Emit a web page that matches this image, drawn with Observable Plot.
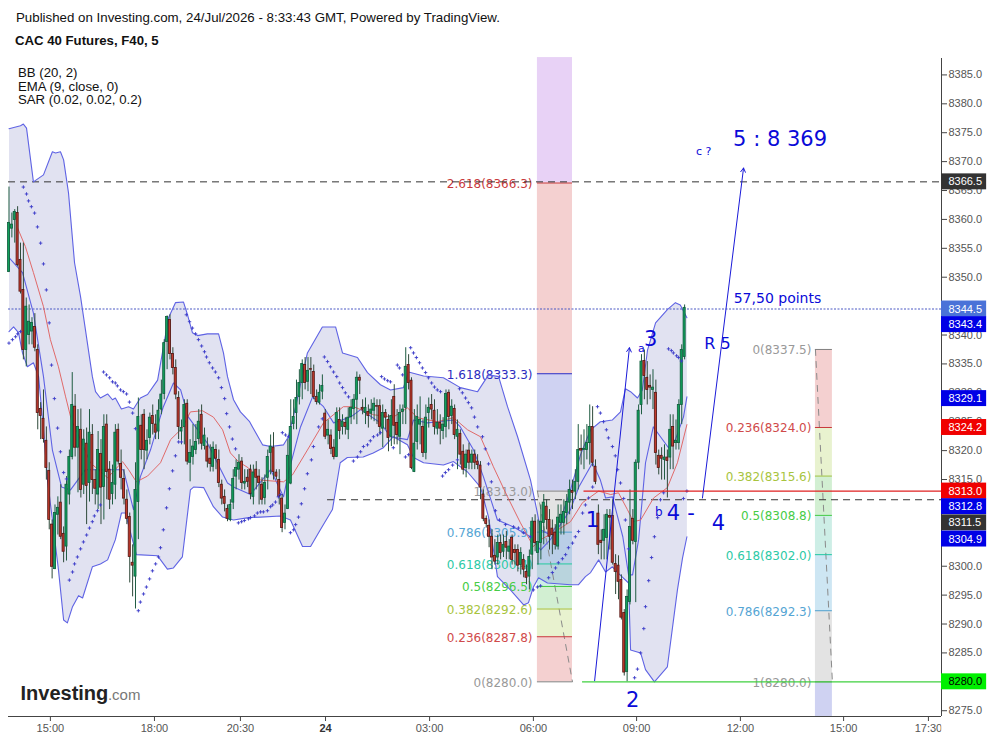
<!DOCTYPE html>
<html><head><meta charset="utf-8">
<script src="https://cdn.jsdelivr.net/npm/d3@7"></script>
<script src="https://cdn.jsdelivr.net/npm/@observablehq/plot@0.6"></script>
<style>
body{margin:0;background:#fff;font-family:"Liberation Sans",Arial,sans-serif;color:#111;position:relative;width:993px;height:741px;overflow:hidden}
#head{height:58px;position:relative}
#pub{position:absolute;left:16px;top:10px;font-size:13.3px;white-space:nowrap}
#ttl{position:absolute;left:15px;top:33px;font-size:13.2px;font-weight:bold;white-space:nowrap}
#leg{position:absolute;left:18px;top:66px;font-size:13.2px;line-height:13.5px;z-index:2}
svg{display:block}
</style></head><body>
<div id="head"><div id="pub">Published on Investing.com, 24/Jul/2026 - 8:33:43 GMT, Powered by TradingView.</div><div id="ttl">CAC 40 Futures, F40, 5</div></div>
<div id="leg">BB (20, 2)<br>EMA (9, close, 0)<br>SAR (0.02, 0.02, 0.2)</div>
<div id="chart"></div>
<script>
const opens=[8350.9,8358.4,8359.9,8361.1,8353,8347.8,8337.4,8340,8340.6,8341.4,8337.4,8327.2,8325.5,8321.7,8316.5,8307.2,8299.5,8308.9,8311,8305.6,8303.4,8312.4,8318.9,8327.6,8320.5,8323.6,8314.1,8321.2,8314.4,8322.7,8314.9,8312.4,8319.4,8313.7,8324.5,8316.7,8312.5,8314.1,8323.6,8317.7,8315.1,8311.5,8308.5,8300.6,8298.2,8311.1,8324.3,8326.2,8320,8322.2,8326,8324.5,8323.3,8327.1,8329.8,8338.8,8342.6,8336.7,8334.3,8329.1,8323.3,8324.1,8328.1,8317.9,8318.9,8320.1,8322,8326.2,8320.8,8320.7,8318.6,8317.2,8320.1,8318.4,8314.1,8312,8309.9,8308,8311,8315.5,8316.7,8318.1,8314.3,8315.3,8316.7,8312,8316.7,8315.5,8314.1,8311.8,8315.3,8319.6,8320.5,8316.2,8314.9,8311.7,8307.5,8309.9,8314.3,8324.6,8326.5,8329.3,8331.7,8334.8,8331.9,8334.1,8333.6,8329.3,8328.3,8330.2,8326.4,8322.6,8322.6,8320.5,8318.9,8325.3,8324.1,8324.8,8323.6,8325.8,8327.2,8328.8,8332.6,8327.4,8326.5,8326.7,8326.4,8326.9,8327.7,8327.7,8323.8,8326.5,8325.3,8322.4,8329.3,8324.8,8322.4,8326.7,8327.4,8334.8,8332.1,8316.3,8321.5,8324.5,8324.1,8319.6,8326.5,8327.9,8326.9,8323.8,8324.8,8323.4,8324.1,8330,8326,8327.2,8322.4,8322.9,8319.8,8317,8320,8317.9,8319.3,8318.1,8317.4,8312.4,8308.2,8307,8305.1,8301.8,8301.5,8304,8302.5,8304.2,8302.5,8304.9,8302.8,8302.8,8300.2,8301.1,8299,8298.2,8302,8307.7,8302.3,8304,8307.5,8310.3,8308,8306.5,8305.8,8303.4,8307.5,8307.5,8309.2,8311,8313,8312.9,8314.6,8320.3,8320.1,8320.1,8321.3,8324.1,8317.2,8309.1,8304.4,8304.4,8304.9,8308.7,8308.7,8300.4,8300.1,8297.6,8291.9,8281.7,8293.8,8308.2,8304.2,8317.9,8327.9,8335.5,8332.6,8331.2,8330.5,8330,8319.1,8319.1,8318.4,8318.8,8318.8,8324.1,8321.3,8321.3,8327.9,8336.2];
const highs=[8365.6,8361.1,8361.7,8362.2,8355.9,8355.9,8346.4,8345.2,8343,8343.7,8338.3,8328.3,8330.5,8324.1,8317.9,8308,8310.6,8312,8314.1,8306.8,8315.5,8320.1,8333.5,8329.7,8327.1,8327.2,8323.6,8323.9,8327.1,8324.5,8316.7,8323.3,8321.9,8326.2,8326.2,8318.1,8317.5,8324.5,8324.6,8320.1,8316.7,8313.2,8309.2,8303.7,8317.9,8329.1,8326.2,8327.1,8323.6,8326.5,8327.9,8326.2,8328.8,8332.2,8339.2,8343.3,8343.5,8337.8,8335.7,8330.2,8325.3,8328.8,8328.8,8321.9,8324.5,8324.5,8327.1,8327.9,8323.9,8322.2,8321,8321.5,8321,8320.1,8314.9,8313.2,8310.6,8311.5,8316.7,8318.4,8319.3,8318.8,8316.7,8316.7,8317.5,8317.5,8318.1,8316.7,8315.3,8315.8,8320.1,8322.7,8323.1,8316.7,8316.7,8312.4,8310.6,8321.9,8328.8,8328.8,8332.2,8334,8335.7,8336.1,8336.1,8336.1,8334.8,8330.5,8331.4,8333.1,8327.1,8325.3,8323.6,8321.9,8327.4,8327.4,8326.2,8325.7,8327.4,8328.8,8329.7,8333.6,8333.1,8328.8,8329.1,8327.9,8328.8,8329.1,8328.8,8328.8,8327.9,8327.1,8326.2,8328.8,8331.4,8327.1,8327.9,8327.9,8337.8,8336.6,8332.6,8327.1,8327.9,8329.3,8325.3,8327.9,8329.1,8329.7,8328.8,8327.1,8326.2,8325.7,8330.5,8330.5,8328.8,8327.9,8325.3,8323.6,8321,8320.1,8321.3,8320.1,8320.1,8319.3,8318.1,8313.2,8308.7,8308,8306.3,8304.6,8305.4,8305.4,8305.4,8306,8304.6,8305.4,8303.7,8303.7,8303.2,8302,8300.2,8302.8,8308.4,8308.9,8308,8310.6,8312.4,8311.5,8309.8,8308,8307.2,8310.6,8310.6,8311.5,8312.4,8314.9,8314.9,8316.7,8324.5,8322.7,8323.6,8324.5,8327.9,8327.6,8318.4,8310.6,8306.3,8308.9,8309.8,8309.8,8311.5,8302,8301.8,8298.5,8292.5,8295.9,8313.2,8309.8,8318.4,8327.9,8336.6,8337.4,8335.4,8333.1,8334,8332.2,8320.1,8320.5,8321,8320.1,8326.2,8326.2,8325.3,8328.8,8338.3,8345.2];
const lows=[8350.8,8356.8,8355.9,8351.8,8347.1,8335.7,8334.5,8338.3,8338.3,8337.1,8323.6,8321.9,8321.3,8314.9,8306.3,8297.8,8299.4,8305.4,8304.6,8300.6,8300.9,8310.6,8318.4,8318.9,8312.7,8311.8,8312.4,8307.2,8311.1,8312.4,8310.6,8309.8,8307.2,8308,8311.5,8309.8,8310.6,8311.5,8317.5,8313.2,8310.6,8307.2,8297.1,8294.7,8292.6,8304.6,8318.4,8316.7,8318.4,8321,8322.7,8321.9,8321.9,8326.2,8328.8,8334,8335.7,8333.1,8328.8,8321.9,8321,8321,8317.5,8314.6,8317.5,8319.3,8321,8320.1,8320.1,8317,8316.3,8316.3,8316.7,8313.6,8310.6,8309.4,8307.7,8307.7,8309.8,8313.2,8314.9,8313.2,8313.2,8313.6,8311.5,8310.6,8313.2,8310.6,8310.6,8310.6,8313.2,8315.8,8314.9,8314.9,8310.6,8305.8,8306.3,8309.8,8314.1,8323.6,8323.6,8327.9,8328.8,8330.5,8330.2,8329.7,8328.8,8327.9,8327.9,8328.8,8321.9,8321,8319.3,8318.4,8318.8,8321.9,8322.7,8322.7,8321.9,8324.5,8325.3,8324.5,8329.7,8326.2,8324.5,8323.9,8325.3,8325,8324.5,8322.7,8320.5,8323.6,8319.8,8320.7,8321,8321,8319.3,8324.5,8324.5,8330.5,8316.7,8316.2,8320.1,8321,8318.8,8318.4,8323.9,8325.3,8322.7,8322.7,8321,8321.9,8322.2,8323.6,8324.5,8321.9,8316.7,8317.5,8315.8,8315.3,8316.7,8316.7,8316.7,8316.7,8311.5,8307.7,8306.6,8303.2,8299.4,8300.2,8300.2,8301.1,8301.5,8301.1,8301.1,8300.2,8300.2,8299,8298.5,8298,8296.8,8295.9,8299.4,8302.5,8300.2,8301.1,8303.7,8306.3,8302.8,8302,8302.8,8302.8,8305.4,8305.4,8307.2,8308.9,8309.8,8311.5,8313.2,8317.5,8316.7,8318.4,8317.5,8317.2,8314.1,8302,8301.1,8301.1,8301.1,8302.8,8300.2,8295.1,8294.2,8290.7,8281,8280,8293.3,8303.7,8293.7,8316.7,8326.2,8328.8,8327.9,8328.8,8327.1,8317.5,8315.8,8314.9,8314.9,8311.8,8316.7,8316.7,8320.1,8320.1,8324.5,8335.7];
const closes=[8359.4,8359.1,8361.3,8352.1,8347.5,8337.4,8344.9,8342.3,8342.1,8337.8,8326.5,8326,8322,8317,8308,8299.9,8309.2,8310.1,8305.1,8302.5,8314.1,8318.9,8327.9,8320.5,8324.1,8313.2,8321.9,8313.9,8323.1,8314.9,8313.4,8320.1,8313.6,8324.1,8316.3,8311.5,8314.4,8323.1,8318.1,8315.3,8311.7,8308.2,8301.6,8300.1,8313.2,8325.8,8320.1,8320.1,8321.7,8325.7,8324.6,8323.1,8326.9,8329.7,8338.6,8343.1,8336.7,8334.3,8329.7,8324.1,8323.9,8327.9,8318.1,8319.6,8320.7,8321.5,8325,8321.2,8322.6,8318.1,8317.7,8320.5,8318.6,8314.4,8311.7,8310.8,8308.2,8310.6,8315.1,8317,8317.9,8314.4,8314.6,8314.6,8312.5,8316.2,8315.3,8314.4,8311.5,8314.4,8318.9,8320.7,8316.3,8315.5,8312,8306.6,8309.1,8319.1,8324.1,8325.8,8329.1,8331.7,8335,8331.7,8333.8,8334,8329.3,8328.4,8330,8331.2,8322.4,8323.6,8320.3,8318.9,8326.5,8323.4,8325,8324.1,8325.7,8327.4,8328.8,8332.6,8332.1,8327.1,8327.4,8326,8327.1,8328.1,8327.6,8324.1,8326.5,8325.7,8322.2,8326,8324.3,8322.7,8326.5,8327.1,8334.5,8331.7,8317,8321.2,8325.8,8325.3,8319.6,8325.7,8327.4,8327.1,8324.1,8324.8,8323.8,8324.5,8329.8,8325.8,8327.6,8322.7,8323.6,8319.3,8316.7,8319.3,8317.9,8319.3,8317.9,8317.5,8313.6,8308.2,8307.3,8305.1,8301.5,8300.8,8304,8302.3,8303.7,8303.2,8303.4,8301.1,8302.3,8300.1,8302.3,8299.4,8298,8301.6,8307.7,8304,8304.2,8307.7,8311,8308,8305.1,8305.4,8303.7,8308.4,8308.9,8309.4,8311.1,8313.2,8312.7,8314.6,8320.1,8320,8320.3,8321.3,8324.1,8317.9,8314.6,8303.7,8304,8306.3,8308.9,8308.4,8300.6,8299,8297.3,8291.1,8281.6,8294.7,8306.8,8304.4,8317.9,8326.9,8335.4,8332.9,8330.5,8330.9,8330.9,8319.6,8317,8318.6,8318.8,8318.2,8323.6,8320.7,8321.7,8327.9,8337.4,8344.7];

const upperIdx=[0,4,5,6.1,8.5,12,15.1,16.2,17.9,19,20.7,22.8,24.9,29,30.1,31.8,34.3,36,37,39.1,41.6,43.3,45.7,48.2,51.7,55.5,57.9,60.7,62.1,63.8,65.6,69,72.9,74.6,76,78.1,80.5,83.7,84.7,88.2,91,95.5,97.2,99.7,103.8,109,113.6,116,121.2,124.7,129.2,132.7,137.2,139,144.2,151.1,157,163,166.8,170.3,173.4,176.9,181.4,183.8,184.9,188.3,191.8,195.3,198.8,202.3,205.7,209.9,212.7,214.4,216.2,218.6,220.3,222.1,224.9,229,231.8,233.5,235.8];
const upperVal=[8375.7,8376.2,8376.5,8375.8,8366.5,8367.7,8371.7,8371.5,8371.7,8370.3,8364.6,8352.5,8346.6,8332.8,8330.2,8329.1,8329.8,8328.8,8329.1,8327.2,8327.6,8327.2,8329.1,8329.7,8332.2,8343,8345.6,8345.7,8343.5,8340.4,8339.9,8340.2,8340.2,8336.9,8332.8,8328.8,8326.7,8325,8324.1,8321,8320.7,8321,8322.4,8327.6,8336.9,8341.4,8341.4,8336.9,8336.1,8333.5,8331.4,8330.5,8330.9,8333.6,8332.9,8332.6,8330.9,8330.2,8333.1,8332.8,8327.6,8322.4,8314.9,8309.2,8306.3,8305.4,8308,8313.2,8319.3,8323.6,8325,8325.3,8326.7,8330.7,8330.2,8329.1,8330.5,8337.4,8342.1,8344.4,8345.6,8345.2,8343];

const middleIdx=[0,4.7,8.5,12,15.1,18.3,21.4,26.6,31.8,39.8,43.3,45.7,49.2,53.7,57.2,59.7,62.4,69,76,78.1,84,91,95.5,97.2,101.4,105.6,109.4,112.9,118.8,122.3,129.2,132.7,138.6,140.7,145.6,154.6,157,161.6,165,169.9,175.5,181.4,184.9,188.3,191.8,195.3,198.2,203,205.7,207.5,209.9,213.5,215.5,216.9,219,221.4,224.1,226.6,229.4,231.8,234.6,235.8];
const middleVal=[8353.4,8350.8,8343.8,8332.8,8320.1,8313.7,8313.2,8316.7,8316.7,8316.7,8309.8,8315.5,8320.1,8327.6,8331.7,8330.5,8325.8,8321.3,8314.4,8313.7,8312.4,8316.7,8312,8316.2,8324.1,8329.3,8327.6,8324.8,8325.8,8327.1,8324.8,8322.4,8321.9,8325.3,8324.8,8325.3,8324.1,8320.1,8315.5,8308,8306.8,8305.1,8302.8,8304.6,8307.2,8309.8,8313.7,8317.9,8314.9,8311.8,8312,8305.1,8298.5,8298.5,8304.6,8317.9,8324.1,8322.4,8320.5,8321.9,8325.8,8329.3];

const lowerIdx=[0,1.6,3.3,4.7,6.4,8.5,10.3,12,13.4,15.1,17.2,19,20.3,22.1,24.2,25.6,29,31.8,34.3,37,39.1,40.5,44.3,51.7,55.1,57.2,60.3,63.1,64.2,67.7,71.1,74.3,78.1,83.3,87.5,94.4,97.9,102.1,104.9,108.3,112.5,115.2,117.7,123.2,126.7,130.2,133.7,138.6,140.7,144.2,151.1,154.6,159.5,164,166.8,169.9,174.4,179,180.7,182.4,184.2,187.3,195.3,198.1,200.5,202.3,205.1,207.5,209.9,211.7,215.5,216.2,219.7,221.4,224.5,229,232.5,234.3,235.8];
const lowerVal=[8340.6,8341.4,8340.4,8336.9,8334.5,8335.2,8332.8,8323.6,8314.9,8308,8299.4,8290.7,8290.2,8293,8294.9,8294.5,8299.9,8300.4,8301.1,8304.6,8309.2,8309.2,8302,8301.8,8299.5,8299.7,8301.6,8313.2,8313.7,8313.6,8310.3,8308.5,8308,8308.4,8308.5,8308.7,8308,8303.4,8303.4,8306.3,8309.8,8317.9,8318.8,8318.9,8319.6,8320.5,8322.4,8321,8318.8,8317.9,8317.5,8318.1,8316.3,8313.7,8308.5,8298.2,8295.9,8293.3,8293.7,8296.4,8298,8297.1,8296.8,8296.8,8298.2,8298.9,8301.1,8299,8299.9,8298.9,8297.1,8285.5,8285,8282.1,8280,8282.6,8295.9,8301.5,8305.1];

const emaIdx=[3,5.7,8.5,12,14.4,17.2,19.7,21.7,24.9,28.3,34.3,39.5,41.6,44.3,48.2,52.7,56.2,60.3,63.1,67.3,71.1,74.3,77,79.8,83.3,87.5,95.5,98.6,103.8,109.4,116.3,119.8,126.8,133.7,138.6,142.1,149,154.6,159.5,164,168.5,173.4,177.9,182.4,184.9,189.4,195.3,199.5,205.1,209.3,212,215.1,217.2,219.7,224.2,229,232.5,235.8];
const emaVal=[8358.5,8355.3,8350.8,8344.9,8339.2,8334.5,8329.3,8325.3,8321.9,8317.9,8315.3,8318.1,8316.7,8314.6,8315.6,8317.9,8321.9,8323.9,8326.7,8326.9,8325.8,8323.6,8319.6,8318.1,8317,8314.9,8314.6,8315.8,8320.1,8324.8,8327.6,8327.6,8326.2,8325.8,8327.4,8325.7,8325,8325.7,8323.6,8322.4,8317.2,8312,8307.5,8303.4,8304.6,8305.8,8307.7,8311,8313,8312.4,8312.7,8309.8,8307.7,8308,8311.8,8313.6,8317.9,8324.5];

const sarIdx=[0,1.2,2.3,3,4,5,6.1,6.8,7.8,8.9,9.9,11,12,13,14,14.8,15.8,16.9,17.9,19,20,21,22.1,22.8,23.8,24.9,25.9,27,28,29,29.7,30.8,31.8,32.9,33.9,35,36,37,37.7,38.8,39.8,40.9,41.9,43,44,45,45.7,46.8,47.8,48.9,49.9,51,52,52.7,53.7,54.8,55.8,56.9,57.9,59,60,61.7,62.8,63.8,64.9,65.9,67,68,68.7,69.7,70.8,71.8,72.9,73.9,75,75.7,76.7,77.7,78.8,79.8,80.9,81.9,83.3,84,85.4,86.4,87.5,88.5,89.9,91,91.7,92.7,93.7,94.4,95.1,96.2,97.2,97.9,99,99.7,100.7,101.7,102.8,103.8,105.2,105.9,107.7,109,109.7,110.8,111.8,112.9,114,115,116,117,118.1,119.8,121.2,122.3,123.3,124.7,125.7,126.8,128.2,129.2,129.6,130.6,131.7,132.7,133.7,135.1,135.8,136.9,137.9,139,139.7,140.7,141.7,142.8,143.8,144.9,145.9,147,148,149,150.1,150.8,151.8,152.9,154.3,156,156.7,157.7,158.8,159.8,160.9,161.9,163,164.7,165.7,166.8,167.8,169.2,170.6,172.7,175.5,177.2,179,181.4,182.4,183.8,184.9,187.7,189,190.1,191.1,192.5,193.6,194.6,196,197,198.1,199.5,200.5,201.6,203,204.7,205.7,206.8,207.8,208.5,209.9,210.9,211.7,212.7,213.8,214.4,215.5,217.6,218.6,219.7,220.8,221.4,222.5,223.5,224.5,225.6,226.6,227.7,229.4,230.4,231.1,232.2,232.9,233.9,234.6,235.8];
const sarVal=[8338.6,8339.2,8339.7,8340.2,8340.6,8365.6,8364.4,8363.2,8362.2,8361.1,8358.7,8355.9,8352.3,8347.8,8342.1,8334.8,8329,8323.9,8319.8,8316.2,8315.1,8297.6,8299,8300.4,8301.6,8303,8304.2,8305.4,8306.6,8307.7,8308.7,8309.6,8310.6,8333.6,8333.1,8332.6,8331.9,8331.7,8331.2,8330.5,8330.2,8329.8,8328.4,8326.5,8323.8,8292.3,8293.8,8295.2,8296.4,8297.8,8299.2,8300.4,8301.6,8303.2,8306.3,8310.1,8313.4,8316.5,8319.1,8321.5,8321.5,8343.5,8342.3,8341.2,8340.2,8339.2,8338.1,8337.1,8336.2,8335.2,8334.3,8333.6,8332.6,8330.9,8329,8326.4,8324.1,8322,8320.3,8307.5,8307.7,8307.9,8308.2,8308.4,8308.7,8309.2,8309.4,8309.4,8309.6,8310.3,8310.6,8311.1,8312,8312.4,8323.1,8322.7,8322.4,8305.8,8306.3,8307.2,8308.5,8310.8,8313.4,8316,8318.4,8320.7,8324.1,8325.5,8336.2,8335.4,8334.5,8333.6,8332.8,8331.7,8330.9,8330,8329.3,8318.2,8318.9,8319.8,8320.7,8321,8321.7,8322.4,8322.7,8323.1,8332.8,8332.4,8332.1,8331.9,8320.5,8334.8,8334.3,8333.1,8318.9,8319.3,8337.8,8336.9,8336.1,8335.2,8334.3,8333.5,8332.6,8331.7,8331,8330.5,8330.2,8315.6,8316.2,8316.7,8317.5,8318.4,8330.7,8330,8329.1,8328.3,8327.4,8325.8,8324.1,8322.4,8320.3,8317.7,8314.6,8309.6,8308,8307.2,8306.8,8306.6,8305.8,8305.1,8295.9,8296.4,8296.6,8298,8298.9,8299.7,8300.6,8301.3,8302,8303.2,8304,8305.1,8306,8309.2,8310.6,8311.8,8313.7,8327.6,8326.5,8325,8323.6,8322.2,8320.7,8319.1,8316.7,8314.4,8311.7,8308,8303,8280.7,8282.2,8285,8289.2,8293,8297.5,8301.5,8305.1,8308.4,8311.5,8312.7,8337.6,8337.3,8336.9,8336.4,8336.1,8335.5,8311.7,8313];

const fibLeftNames=["0","0.236","0.382","0.5","0.618","0.786","1","1.618","2.618"];
const fibLeftPrices=[8280.0,8287.8,8292.6,8296.5,8300.4,8305.9,8313.0,8333.3,8366.3];
const fibRightNames=["0","0.236","0.382","0.5","0.618","0.786","1"];
const fibRightPrices=[8337.5,8324.0,8315.6,8308.8,8302.0,8292.3,8280.0];
const fibLineColors={"0":"#808080","0.236":"#c8393b","0.382":"#a3c03c","0.5":"#3fc83f","0.618":"#22c7a0","0.786":"#4a9fd0","1":"#808080","1.618":"#2c2cc0","2.618":"#c8393b"};
const fibLabelColors={"0":"#999999","0.236":"#d04a4a","0.382":"#a8c43e","0.5":"#46cc46","0.618":"#2ccaa6","0.786":"#55a5d4","1":"#999999","1.618":"#2c2cc0","2.618":"#c8393b"};
const fibLeftFills=["#f4d0d0","#e8f2cf","#d2efd2","#cdeee6","#cde6f3","#e3e3e3","#cfd2f2","#f4d0d0","#e8d2f6"];
const fibRightFills=["#f4d0d0","#e8f2cf","#d2efd2","#cdeee6","#cde6f3","#e3e3e3","#cfd2f2"];

const tagValues=[8366.5,8344.5,8343.4,8329.1,8324.2,8313.0,8312.8,8311.5,8304.9,8280.0];
const tagAt=[8366.5,8344.5,8341.8,8329.0,8324.0,8313.0,8310.3,8307.5,8304.7,8280.0];
const tagFills=["#333333","#4a72d8","#0000e6","#0000e6","#f00000","#f00000","#0000e6","#333333","#0000e6","#00f000"];
const tagInks=["#fff","#fff","#fff","#fff","#fff","#fff","#fff","#fff","#fff","#000"];

const priceTicks=d3.range(8275,8386,5);
const timeTicks=[14.4,50.6,80.5,146.3,182.4,218.3,254.4,290.3,319.8];
const timeLabels=["15:00","18:00","20:30","03:00","06:00","09:00","12:00","15:00","17:30"];
const dayTick=110.1, dayLabel="24";

const noteText=["5 : 8 369","c ?","57,50 points","R 5","3","a","1","2","b","4","-","4"];
const noteIdx=[268.2,241.6,267.3,246.4,223.2,220,202.9,216.9,226,231.1,237.2,246.8];
const notePrice=[8373.9,8371.7,8346.3,8338.5,8339.2,8337.6,8307.9,8276.8,8309.3,8309.1,8309.2,8307.5];
const noteSize=[21,11,14,16,21,11,21,21,12,21,21,21];

const xMin=-0.17,xMax=324.35;
const candles=opens.map((o,i)=>({i,o,h:highs[i],l:lows[i],c:closes[i],up:closes[i]>=o}));
const pts=(a,b)=>a.map((i,k)=>({i,p:b[k]}));
const bandPoly=[...pts(upperIdx,upperVal),...pts(lowerIdx,lowerVal).reverse()];
const fibBands=(prices,fills,end,a,b)=>prices.map((p,k)=>({x1:a,x2:b,y1:p,y2:k+1<prices.length?prices[k+1]:end,f:fills[k]}));
const fibL=fibBands(fibLeftPrices,fibLeftFills,8388,183.8,196);
const fibR=fibBands(fibRightPrices,fibRightFills,8274,280.5,286.4);
const fibTextL=fibLeftPrices.map((p,k)=>({n:fibLeftNames[k],p}));
const fibTextR=fibRightPrices.map((p,k)=>({n:fibRightNames[k],p}));
const fmt=d=>`${d.n}(${d.p.toFixed(1)})`;
const tags=tagValues.map((v,k)=>({v,at:tagAt[k],f:tagFills[k],ink:tagInks[k]}));
const notes=noteText.map((t,k)=>({t,i:noteIdx[k],p:notePrice[k],s:noteSize[k]}));
const blue="#0a0ad8";

const chart=Plot.plot({
  width:993,height:683,marginLeft:8,marginRight:52,marginTop:0,marginBottom:25,
  style:{background:"#fff",fontFamily:'"Liberation Sans",Arial,sans-serif',overflow:"visible"},
  x:{domain:[xMin,xMax]},
  y:{domain:[8274.0,8387.84]},
  color:{type:"identity"},
  marks:[
    Plot.axisY({anchor:"right",ticks:priceTicks,tickFormat:d=>d.toFixed(1),tickSize:5,tickPadding:2,fontSize:11,color:"#555",stroke:"#444",label:null}),
    Plot.axisX({ticks:timeTicks,tickFormat:d=>timeLabels[timeTicks.indexOf(d)],tickSize:5,tickPadding:3,fontSize:11,color:"#555",stroke:"#444",label:null}),
    Plot.axisX({ticks:[dayTick],tickFormat:()=>dayLabel,tickSize:5,tickPadding:3,fontSize:11,fontWeight:"bold",color:"#333",stroke:"#444",label:null}),
    Plot.rect([0],{x1:xMax+0.1,x2:xMax+8,y1:8273.4,y2:8269,fill:"#fff"}),
    Plot.rect(fibL,{x1:"x1",x2:"x2",y1:"y1",y2:"y2",fill:"f"}),
    Plot.rect(fibR,{x1:"x1",x2:"x2",y1:"y1",y2:"y2",fill:"f"}),
    Plot.line(bandPoly,{x:"i",y:"p",fill:"#6a70b8",fillOpacity:0.2,stroke:"none"}),
    Plot.line([{i:183.8,p:8313},{i:196,p:8280}],{x:"i",y:"p",stroke:"#8a8a8a",strokeWidth:1,strokeDasharray:"6,6"}),
    Plot.line([{i:280.5,p:8337.5},{i:286.4,p:8280}],{x:"i",y:"p",stroke:"#8a8a8a",strokeWidth:1,strokeDasharray:"6,6"}),
    Plot.ruleY(fibTextL,{y:"p",x1:183.8,x2:196,stroke:d=>fibLineColors[d.n]}),
    Plot.ruleY(fibTextR,{y:"p",x1:280.5,x2:286.4,stroke:d=>fibLineColors[d.n]}),
    Plot.text(fibTextL,{x:182.1,y:"p",text:fmt,textAnchor:"end",dy:1,fontSize:12,fontFamily:"DejaVu Sans",fill:d=>fibLabelColors[d.n]}),
    Plot.text(fibTextR,{x:279.1,y:"p",text:fmt,textAnchor:"end",dy:1,fontSize:12,fontFamily:"DejaVu Sans",fill:d=>fibLabelColors[d.n]}),
    Plot.ruleY([8366.5],{x1:xMin,x2:xMax,stroke:"#333",strokeDasharray:"7,5"}),
    Plot.ruleY([8311.5],{x1:110.8,x2:xMax,stroke:"#333",strokeDasharray:"7,5"}),
    Plot.ruleY([8344.5],{x1:xMin,x2:xMax,stroke:"#4a58c4",strokeDasharray:"2,1.5"}),
    Plot.line(pts(upperIdx,upperVal),{x:"i",y:"p",stroke:"#5f63e4",strokeWidth:1.1}),
    Plot.line(pts(lowerIdx,lowerVal),{x:"i",y:"p",stroke:"#5f63e4",strokeWidth:1.1}),
    Plot.line(pts(middleIdx,middleVal),{x:"i",y:"p",stroke:"#5f63e4",strokeWidth:1.1}),
    Plot.line(pts(emaIdx,emaVal),{x:"i",y:"p",stroke:"#e06a6a",strokeWidth:1}),
    Plot.ruleX(candles,{x:"i",y1:"l",y2:"h",stroke:d=>d.up?"#1f5c42":"#2e4a3a",strokeWidth:1}),
    Plot.rect(candles,{x1:d=>d.i-0.36,x2:d=>d.i+0.36,y1:"o",y2:"c",fill:d=>d.up?"#12a05c":"#c23a2c",stroke:d=>d.up?"#0e5c3c":"#511512",strokeWidth:0.8}),
    Plot.dot(pts(sarIdx,sarVal),{x:"i",y:"p",symbol:"plus",r:1.2,stroke:"#3a3ac8",strokeWidth:0.9}),
    Plot.ruleY([8313],{x1:200,x2:xMax,stroke:"#e02020",strokeWidth:1.2}),
    Plot.ruleY([8280],{x1:199.5,x2:xMax,stroke:"#3fd03f",strokeWidth:1.2}),
    Plot.arrow([0],{x1:203.7,y1:8280.2,x2:215.8,y2:8337.8,stroke:"#1a1ad8",bend:0,headLength:7,strokeWidth:1}),
    Plot.arrow([0],{x1:241.2,y1:8311.8,x2:255.5,y2:8368.9,stroke:"#1a1ad8",bend:0,headLength:7,strokeWidth:1}),
    Plot.text(notes,{x:"i",y:"p",text:"t",fontSize:"s",fontFamily:"DejaVu Sans",fill:blue}),
    Plot.ruleX([xMax],{stroke:"#444"}),
    Plot.ruleY([8274.0],{x1:xMin,x2:xMax,stroke:"#444"}),
    Plot.rect(tags,{x1:xMax,x2:xMax+15.7,y1:d=>d.at-1.38,y2:d=>d.at+1.38,fill:"f"}),
    Plot.text(tags,{x:xMax+2.4,y:"at",text:d=>d.v.toFixed(1),textAnchor:"start",fontSize:11,fill:"ink"}),
    Plot.text(["Investing"],{x:4,y:8278,text:d=>d,textAnchor:"start",fontSize:20,fontWeight:"bold",fill:"#222",letterSpacing:-0.5}),
    Plot.text([".com"],{x:34.4,y:8277.7,text:d=>d,textAnchor:"start",fontSize:15,fill:"#777"})
  ]
});
document.getElementById("chart").append(chart);
</script>
</body></html>
